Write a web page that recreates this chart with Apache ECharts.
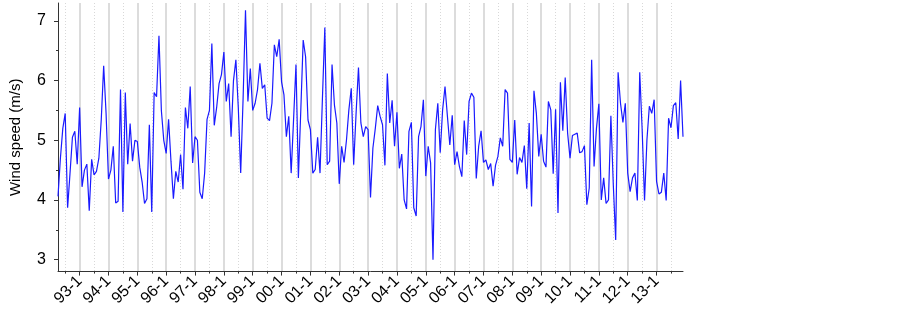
<!DOCTYPE html>
<html>
<head>
<meta charset="utf-8">
<script src="https://cdn.jsdelivr.net/npm/echarts@6/dist/echarts.min.js"></script>
<style>
html,body{margin:0;padding:0;background:#fff;}
#chart{width:903px;height:309px;}
</style>
</head>
<body>
<div id="chart"></div>
<script>
// Monthly mean wind speed, April 1992 .. December 2013
const startYear = 1992;
const startMonth = 4;
const windSpeed = [
  4.06, 4.7, 5.2, 5.45, 3.87, 4.45, 5.05, 5.15, 4.6,
  5.55, 4.22, 4.5, 4.6, 3.82, 4.68, 4.42, 4.48, 4.7, 5.35, 6.25, 5.45,
  4.35, 4.5, 4.9, 3.95, 3.98, 5.85, 3.8, 5.8, 4.6, 5.28, 4.65, 5.0,
  4.98, 4.55, 4.3, 3.94, 4.02, 5.26, 3.8, 5.8, 5.73, 6.75, 5.5, 5.0,
  4.78, 5.35, 4.65, 4.02, 4.48, 4.3, 4.76, 4.18, 5.55, 5.2, 5.9, 4.62,
  5.06, 5.0, 4.13, 4.02, 4.45, 5.35, 5.5, 6.62, 5.25, 5.55, 5.95, 6.1,
  6.48, 5.65, 5.95, 5.06, 6.0, 6.35, 5.55, 4.45, 5.7, 7.18, 5.65, 6.2,
  5.5, 5.62, 5.85, 6.29, 5.87, 5.93, 5.37, 5.33, 5.62, 6.6, 6.4, 6.69,
  5.98, 5.76, 5.06, 5.4, 4.45, 5.35, 6.27, 4.37, 5.5, 6.68, 6.4, 5.34,
  5.18, 4.45, 4.51, 5.05, 4.45, 5.7, 6.89, 4.59, 4.65, 6.27, 5.59, 5.29,
  4.27, 4.9, 4.63, 5.0, 5.51, 5.87, 4.59, 5.45, 6.22, 5.29, 5.06, 5.23,
  5.18, 4.04, 4.87, 5.2, 5.58, 5.4, 5.26, 4.58, 6.12, 5.29, 5.67, 4.9,
  5.47, 4.53, 4.77, 4.0, 3.85, 5.15, 5.3, 3.87, 3.73, 5.06, 5.23, 5.68,
  4.4, 4.9, 4.62, 3.0, 5.18, 5.62, 4.79, 5.51, 5.9, 5.4, 4.92, 5.42,
  4.59, 4.81, 4.56, 4.39, 5.33, 4.76, 5.65, 5.79, 5.72, 4.36, 4.9, 5.16,
  4.63, 4.67, 4.51, 4.61, 4.23, 4.58, 4.73, 5.04, 4.9, 5.85, 5.79, 4.68,
  4.63, 5.34, 4.43, 4.71, 4.63, 4.91, 4.19, 5.29, 3.89, 5.83, 5.45, 4.73,
  5.1, 4.65, 4.55, 5.65, 5.51, 4.44, 5.52, 3.78, 5.97, 5.16, 6.05, 5.12,
  4.7, 5.08, 5.1, 5.12, 4.79, 4.81, 4.91, 3.92, 4.2, 6.35, 4.56, 5.2,
  5.61, 4.0, 4.37, 3.94, 4.0, 5.41, 4.26, 3.33, 6.14, 5.62, 5.3, 5.62,
  4.45, 4.14, 4.37, 4.45, 3.99, 6.14, 5.19, 3.99, 5.01, 5.57, 5.45, 5.68,
  4.31, 4.1, 4.13, 4.45, 3.99, 5.37, 5.21, 5.58, 5.63, 5.02, 6.0, 5.06
];
const yMajorTicks = [3, 4, 5, 6, 7];
const yMinorTicks = [3.5, 4.5, 5.5, 6.5];
const yAxisName = 'Wind speed (m/s)';

// category labels like "93-1"
const categories = windSpeed.map(function (v, i) {
  const k = startMonth - 1 + i;
  const y = startYear + Math.floor(k / 12);
  const m = (k % 12) + 1;
  return String(y % 100).padStart(2, '0') + '-' + m;
});
function monthOf(label) { return parseInt(label.split('-')[1], 10); }
const isJan = function (i, v) { return monthOf(v) === 1; };
const isJul = function (i, v) { return monthOf(v) === 7; };

const FONT = 'Liberation Sans, Arial, sans-serif';
const chart = echarts.init(document.getElementById('chart'), null, { renderer: 'canvas' });
chart.setOption({
  animation: false,
  backgroundColor: '#ffffff',
  grid: { left: 52, right: 220, top: 3, bottom: 37, containLabel: false },
  xAxis: [
    {
      type: 'category', data: categories, boundaryGap: false, position: 'bottom',
      axisLine: { show: true, lineStyle: { color: '#333', width: 1 } },
      axisTick: { show: true, interval: isJan, length: 4, lineStyle: { color: '#333' } },
      axisLabel: { show: true, interval: isJan, rotate: 45, margin: 7, fontSize: 16, color: '#000', fontFamily: FONT },
      splitLine: { show: true, interval: isJan, lineStyle: { color: '#d0d0d0', width: 1.5 } }
    },
    {
      type: 'category', data: categories, boundaryGap: false, position: 'bottom', offset: 0,
      axisLine: { show: false },
      axisTick: { show: true, interval: isJul, length: 2, lineStyle: { color: '#333' } },
      axisLabel: { show: false },
      splitLine: { show: true, interval: isJul, lineStyle: { color: '#d8d8d8', width: 1, type: [1, 2] } }
    }
  ],
  yAxis: [
    {
      type: 'value', min: 2.8, max: 7.3, position: 'left',
      name: yAxisName, nameLocation: 'middle', nameGap: 35, nameRotate: 90,
      nameTextStyle: { fontSize: 15, color: '#000', fontFamily: FONT },
      axisLine: { show: true, lineStyle: { color: '#333', width: 1 } },
      axisTick: { show: true, customValues: yMajorTicks, length: 4, lineStyle: { color: '#333' } },
      axisLabel: { show: true, customValues: yMajorTicks, margin: 12, fontSize: 16, color: '#000', fontFamily: FONT },
      splitLine: { show: false }
    },
    {
      type: 'value', min: 2.8, max: 7.3, position: 'left', offset: 0,
      axisLine: { show: false },
      axisTick: { show: true, customValues: yMinorTicks, length: 2, lineStyle: { color: '#333' } },
      axisLabel: { show: false },
      splitLine: { show: false }
    }
  ],
  series: [{
    type: 'line', data: windSpeed, xAxisIndex: 0, yAxisIndex: 0,
    showSymbol: false, symbol: 'none',
    lineStyle: { color: '#1a1aff', width: 1.2 },
    z: 5
  }]
});
</script>
</body>
</html>
